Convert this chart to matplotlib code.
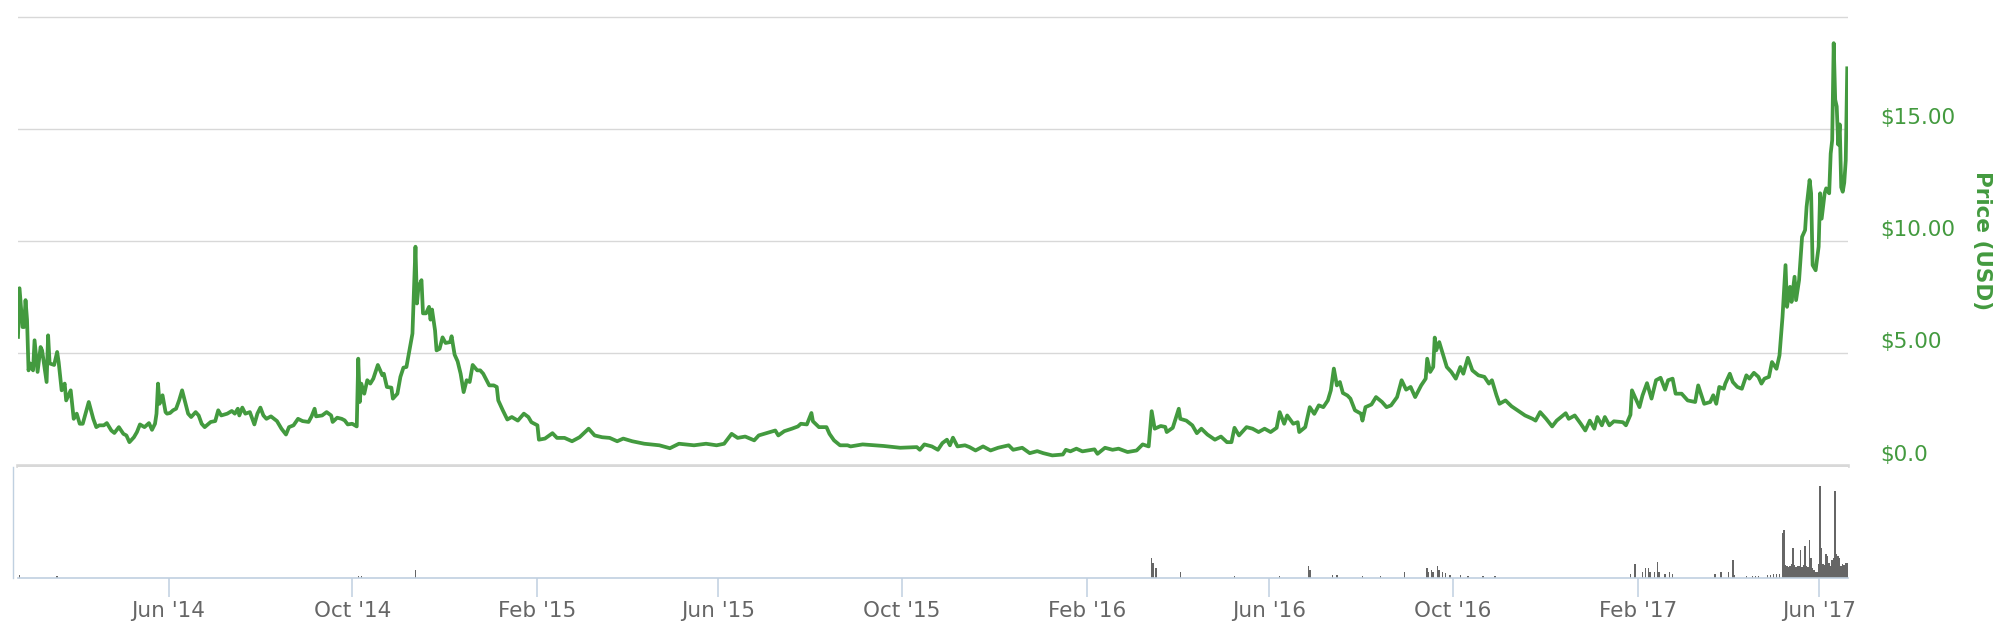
import numpy as np
import matplotlib
matplotlib.use('Agg')
import matplotlib.pyplot as plt
import matplotlib.dates as mdates
from matplotlib.transforms import ScaledTranslation

# Data: days counted from the first point (21 Feb 2014)
start = np.datetime64('2014-02-21')

price_day = [0, 1, 3, 4, 5, 6, 7, 8, 10, 11, 13, 15, 16, 19, 20, 21, 24, 26, 27, 29,
             31, 32, 35, 37, 39, 41, 43, 47, 50, 52, 54, 57, 59, 62, 64, 67, 70, 72, 74, 77,
             79, 81, 84, 87, 89, 91, 92, 93, 94, 96, 98, 99, 101, 103, 105, 107, 109, 111, 113, 115,
             118, 120, 122, 124, 128, 131, 133, 135, 139, 142, 144, 146, 147, 149, 151, 154, 157, 159, 161, 163,
             165, 168, 172, 175, 178, 180, 183, 186, 189, 193, 195, 197, 198, 202, 205, 208, 209, 212, 215, 217,
             219, 222, 225, 226, 227, 228, 230, 232, 234, 236, 239, 242, 243, 245, 248, 249, 252, 254, 256, 258,
             260, 262, 264, 265, 266, 267, 268, 269, 271, 273, 274, 275, 277, 278, 280, 282, 284, 287, 288, 290,
             292, 294, 296, 298, 300, 302, 305, 307, 309, 311, 313, 316, 318, 319, 322, 325, 328, 332, 336, 339,
             341, 345, 346, 350, 355, 358, 363, 368, 373, 379, 383, 388, 393, 398, 402, 408, 416, 426, 433, 439,
             449, 457, 464, 469, 474, 478, 483, 489, 492, 497, 503, 505, 509, 514, 518, 520, 524, 527, 528, 532,
             537, 539, 542, 546, 551, 553, 561, 575, 586, 597, 599, 602, 607, 611, 614, 617, 619, 621, 624, 629,
             632, 636, 641, 646, 651, 658, 661, 667, 672, 677, 681, 687, 694, 696, 699, 703, 707, 715, 717, 722,
             727, 731, 737, 743, 747, 751, 753, 755, 759, 762, 763, 767, 771, 772, 776, 780, 783, 786, 790, 795,
             799, 803, 806, 808, 811, 816, 820, 824, 828, 832, 836, 838, 841, 843, 847, 850, 851, 855, 858, 861,
             864, 867, 870, 872, 874, 876, 878, 880, 883, 885, 888, 892, 893, 895, 899, 902, 906, 909, 912, 916,
             919, 922, 925, 928, 932, 935, 936, 938, 940, 941, 942, 944, 946, 949, 952, 955, 958, 960, 963, 966,
             970, 974, 977, 979, 982, 984, 988, 992, 996, 1001, 1006, 1008, 1011, 1015, 1019, 1022, 1028, 1030, 1034, 1038,
             1041, 1044, 1047, 1049, 1052, 1054, 1057, 1060, 1066, 1068, 1071, 1072, 1075, 1077, 1079, 1082, 1085, 1088, 1091, 1094,
             1096, 1099, 1101, 1105, 1109, 1114, 1116, 1120, 1124, 1126, 1128, 1130, 1133, 1134, 1137, 1139, 1142, 1145, 1148, 1150,
             1153, 1156, 1158, 1160, 1163, 1165, 1168, 1170, 1172, 1174, 1175, 1177, 1178, 1180, 1181, 1183, 1185, 1187, 1188, 1190,
             1191, 1192, 1194, 1196, 1197, 1198, 1200, 1201, 1203, 1204, 1205, 1206, 1207, 1208, 1209, 1210, 1211, 1212, 1213, 1214,
             1215]
price_usd = [5.73, 7.9, 6.17, 6.17, 7.37, 6.5, 4.24, 4.55, 4.24, 5.58, 4.17, 5.28, 5.13, 3.72, 5.8, 4.55, 4.48, 5.06, 4.61, 3.35,
             3.65, 2.9, 3.35, 2.08, 2.31, 1.86, 1.86, 2.83, 2.08, 1.71, 1.79, 1.79, 1.89, 1.56, 1.45, 1.71, 1.41, 1.34, 1.04, 1.26,
             1.49, 1.83, 1.71, 1.89, 1.59, 1.86, 2.31, 3.65, 2.75, 3.13, 2.38, 2.31, 2.34, 2.46, 2.53, 2.9, 3.35, 2.83, 2.31, 2.16,
             2.38, 2.23, 1.86, 1.71, 1.94, 1.98, 2.46, 2.23, 2.31, 2.43, 2.31, 2.53, 2.23, 2.58, 2.31, 2.38, 1.83, 2.31, 2.58, 2.23,
             2.08, 2.19, 1.98, 1.64, 1.38, 1.71, 1.79, 2.08, 1.98, 1.94, 2.19, 2.53, 2.19, 2.23, 2.38, 2.23, 1.94, 2.13, 2.08, 2.01,
             1.83, 1.86, 1.74, 4.76, 2.83, 3.65, 3.2, 3.8, 3.65, 3.87, 4.48, 4.02, 4.09, 3.5, 3.47, 2.98, 3.2, 3.95, 4.36, 4.39,
             5.13, 5.88, 9.75, 7.22, 7.96, 8.1, 8.26, 6.78, 6.78, 7.07, 6.5, 6.95, 6.02, 5.13, 5.2, 5.71, 5.46, 5.5, 5.76, 4.94,
             4.64, 4.09, 3.27, 3.8, 3.72, 4.48, 4.24, 4.24, 4.09, 3.83, 3.57, 3.57, 3.5, 2.9, 2.46, 2.05, 2.16, 2.0, 2.31, 2.16,
             1.93, 1.79, 1.15, 1.2, 1.44, 1.23, 1.23, 1.08, 1.26, 1.64, 1.34, 1.26, 1.23, 1.08, 1.2, 1.08, 0.97, 0.9, 0.77, 0.97,
             0.9, 0.97, 0.9, 0.97, 1.41, 1.23, 1.29, 1.12, 1.34, 1.44, 1.56, 1.34, 1.53, 1.64, 1.74, 1.86, 1.83, 2.34, 1.97, 1.71,
             1.71, 1.41, 1.12, 0.9, 0.9, 0.85, 0.94, 0.87, 0.79, 0.82, 0.7, 0.94, 0.85, 0.7, 1.0, 1.15, 0.9, 1.24, 0.85, 0.9,
             0.82, 0.67, 0.85, 0.67, 0.79, 0.9, 0.7, 0.79, 0.55, 0.64, 0.55, 0.45, 0.49, 0.7, 0.63, 0.75, 0.63, 0.72, 0.52, 0.79,
             0.7, 0.75, 0.6, 0.67, 0.94, 0.85, 2.42, 1.64, 1.76, 1.72, 1.49, 1.68, 2.53, 2.08, 2.0, 1.79, 1.44, 1.64, 1.38, 1.15,
             1.29, 1.04, 1.04, 1.68, 1.34, 1.71, 1.64, 1.49, 1.64, 1.49, 1.68, 2.38, 1.86, 2.23, 1.86, 1.93, 1.49, 1.71, 2.6, 2.3,
             2.68, 2.6, 2.9, 3.35, 4.32, 3.57, 3.72, 3.23, 3.12, 2.98, 2.46, 2.31, 2.0, 2.6, 2.72, 3.05, 2.83, 2.6, 2.68, 3.05,
             3.8, 3.38, 3.5, 3.05, 3.57, 3.87, 4.76, 4.17, 4.39, 5.7, 5.13, 5.5, 5.06, 4.39, 4.17, 3.87, 4.39, 4.09, 4.8, 4.24,
             4.02, 3.95, 3.65, 3.8, 3.13, 2.75, 2.9, 2.64, 2.46, 2.23, 2.08, 2.0, 2.38, 2.08, 1.74, 2.0, 2.33, 2.08, 2.23, 1.86,
             1.56, 2.0, 1.64, 2.16, 1.79, 2.16, 1.79, 1.97, 1.93, 1.79, 2.26, 3.35, 2.9, 2.6, 3.12, 3.67, 2.98, 3.8, 3.91, 3.38,
             3.8, 3.87, 3.2, 3.2, 2.9, 2.83, 3.57, 2.75, 2.83, 3.13, 2.75, 3.5, 3.42, 3.65, 4.09, 3.72, 3.5, 3.42, 4.02, 3.87,
             4.13, 3.95, 3.65, 3.87, 3.95, 4.61, 4.31, 4.91, 6.62, 8.93, 7.07, 7.96, 7.29, 8.41, 7.37, 8.26, 10.19, 10.49, 11.53, 12.72,
             12.13, 8.93, 8.7, 9.75, 12.13, 11.0, 12.13, 12.35, 12.13, 13.9, 14.5, 18.82, 16.3, 16.0, 14.3, 15.2, 12.4, 12.2, 12.6, 13.6,
             17.7]

vol_day = [1, 26, 226, 228, 264, 753, 754, 756, 772, 808, 838, 857, 858, 873, 876, 893, 905, 921, 936, 937,
           939, 940, 943, 944, 946, 948, 951, 958, 963, 973, 981, 1071, 1074, 1079, 1081, 1083, 1084, 1087, 1089, 1090,
           1094, 1097, 1099, 1127, 1131, 1136, 1139, 1140, 1148, 1152, 1154, 1156, 1162, 1164, 1166, 1168, 1170, 1172, 1173, 1174,
           1175, 1176, 1177, 1178, 1179, 1180, 1181, 1182, 1183, 1184, 1185, 1186, 1187, 1188, 1189, 1190, 1191, 1192, 1193, 1194,
           1195, 1196, 1197, 1198, 1199, 1200, 1201, 1202, 1203, 1204, 1205, 1206, 1207, 1208, 1209, 1210, 1211, 1212, 1213, 1214,
           1215]
volume = [3, 2, 2, 2, 8, 20, 15, 10, 6, 2, 2, 12, 8, 3, 3, 2, 2, 6, 10, 6,
          8, 6, 12, 8, 6, 5, 3, 3, 2, 2, 2, 4, 14, 6, 10, 10, 6, 6, 16, 6,
          4, 6, 4, 4, 6, 6, 18, 3, 2, 2, 2, 2, 3, 3, 4, 4, 4, 45, 48, 13,
          12, 11, 12, 14, 30, 13, 11, 12, 12, 28, 11, 13, 32, 12, 11, 38, 20, 10, 8, 6,
          6, 14, 92, 30, 14, 13, 24, 22, 15, 12, 18, 20, 87, 24, 22, 20, 12, 14, 13, 15,
          15]

price_ticks = [0, 5, 10, 15, 20]
price_tick_labels = ['$0.0', '$5.00', '$10.00', '$15.00', '']

price_dates = start + np.array(price_day).astype('timedelta64[D]')
vol_dates = start + np.array(vol_day).astype('timedelta64[D]')

GREEN = '#439a3f'
GRID = '#d8d8d8'
AXIS = '#c0d0e0'

W, H = 2002, 626
fig = plt.figure(figsize=(W / 100, H / 100), dpi=100)

# price panel
ax = fig.add_axes([18 / W, (H - 465.5) / H, 1830 / W, (465.5 - 12) / H])
ax.plot(price_dates, price_usd, color=GREEN, lw=2.7, solid_joinstyle='round', zorder=3)
ax.set_ylim(0, 20 + 4.7 / 22.44)
ax.set_yticks(price_ticks)
ax.set_yticklabels(price_tick_labels)
ax.yaxis.tick_right()
ax.tick_params(axis='y', length=0, pad=23, labelsize=15.5, labelcolor=GREEN)
for lab in ax.get_yticklabels():
    lab.set_transform(lab.get_transform() + ScaledTranslation(0, 0.13, fig.dpi_scale_trans))
ax.yaxis.grid(True, color=GRID, lw=1)
ax.tick_params(axis='x', bottom=False, labelbottom=False)
for s in ['top', 'left', 'right']:
    ax.spines[s].set_visible(False)
ax.spines['bottom'].set_color(GRID)
ax.spines['bottom'].set_linewidth(2.6)

fig.text(1982 / W, 1 - 241 / H, 'Price (USD)', rotation=270, ha='center', va='center',
         fontsize=15.5, fontweight='bold', color=GREEN)

# volume panel
ax2 = fig.add_axes([18 / W, (H - 578) / H, 1830 / W, (578 - 467) / H], sharex=ax)
ax2.bar(vol_dates, volume, width=1.0, color='#666666', linewidth=0)
ax2.set_ylim(0, 111)
ax2.set_yticks([])
for s in ['top', 'right']:
    ax2.spines[s].set_visible(False)
ax2.spines['left'].set_color(AXIS)
ax2.spines['left'].set_linewidth(1.0)
ax2.spines['left'].set_position(('outward', 3.6))
ax2.spines['bottom'].set_color(AXIS)
ax2.spines['bottom'].set_linewidth(1.2)

ax2.xaxis.set_major_locator(mdates.MonthLocator(bymonth=[2, 6, 10]))
ax2.xaxis.set_major_formatter(mdates.DateFormatter("%b '%y"))
ax2.tick_params(axis='x', length=13.7, width=1.1, color=AXIS, labelcolor='#666666',
                labelsize=15.5, pad=3)

x0 = mdates.date2num(start)
ax2.set_xlim(x0, x0 + 1215.5)

fig.savefig('out.png', dpi=100)
